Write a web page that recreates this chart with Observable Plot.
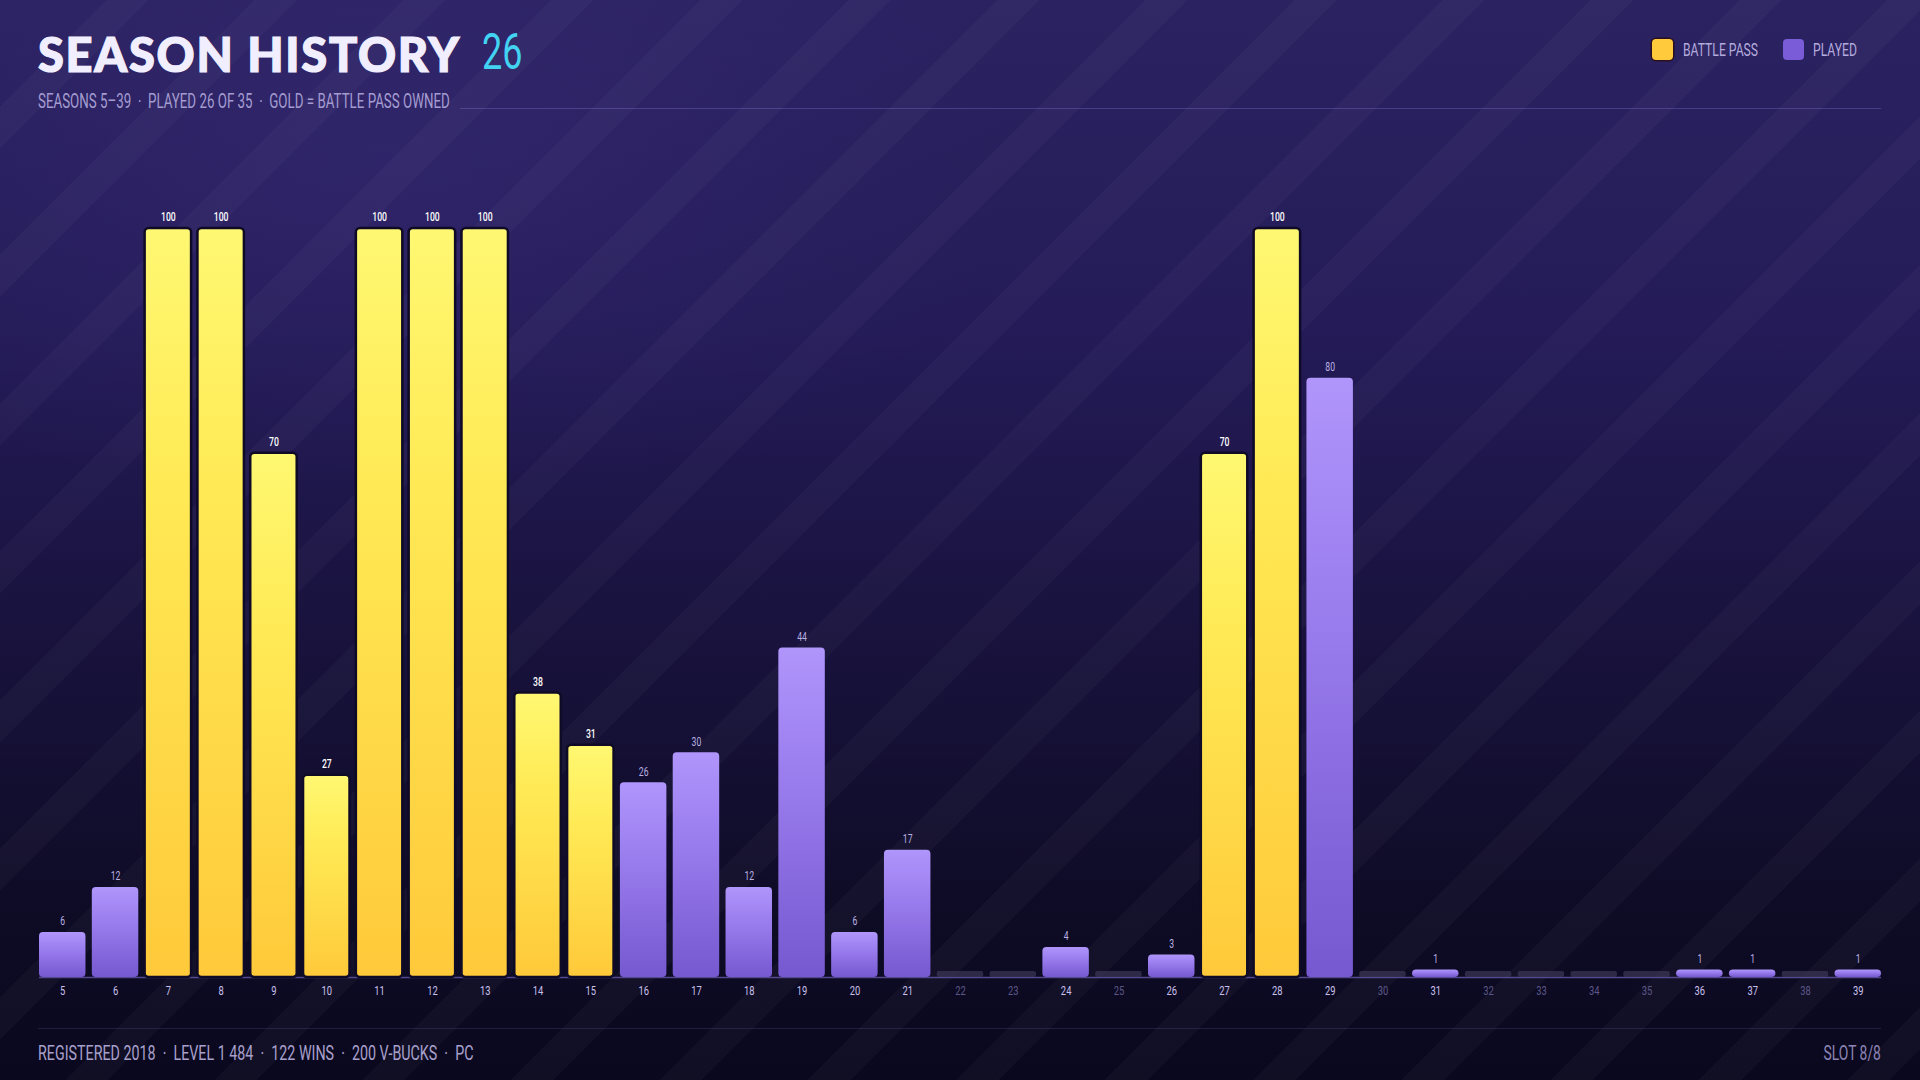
<!DOCTYPE html>
<html>
<head>
<meta charset="utf-8">
<script src="https://cdn.jsdelivr.net/npm/d3@7"></script>
<script src="https://cdn.jsdelivr.net/npm/@observablehq/plot@0.6"></script>
<style>
  html, body { margin: 0; padding: 0; }
  body {
    width: 1920px; height: 1080px; overflow: hidden; position: relative;
    background:
      repeating-linear-gradient(135deg, rgba(255,255,255,0) 0px, rgba(255,255,255,0) 75px, rgba(255,255,255,0.026) 75px, rgba(255,255,255,0.026) 105px),
      radial-gradient(ellipse 900px 500px at 20% 15%, rgba(70,55,140,0.25), rgba(70,55,140,0) 70%),
      linear-gradient(180deg, #2b2262 0%, #241b58 30%, #18123c 60%, #0e0b25 85%, #0a081e 100%);
    font-family: "Roboto", sans-serif;
  }
  .abs { position: absolute; white-space: nowrap; }
  .title-main { left: 38px; top: 26px; font-family: "Lato", "Roboto", sans-serif; font-weight: 900; font-size: 47px; line-height: 56px; color: #f1efff; letter-spacing: 1.7px; -webkit-text-stroke: 1.2px #f1efff; }
  .title-count { left: 482px; top: 22px; font-size: 50px; line-height: 60px; color: #43d3f2; font-weight: 400; transform: scaleX(0.72); transform-origin: left center; }
  .subtitle { left: 38px; top: 88px; font-size: 21px; line-height: 26px; color: #a49cd0; transform: scaleX(0.635); transform-origin: left center; }
  .subline { left: 460px; right: 39px; top: 108px; height: 1px; background: rgba(140,120,220,0.32); }
  .sw { width: 21px; height: 21px; border-radius: 4px; }
  .legtext { font-size: 19px; line-height: 24px; color: #b3abdc; top: 38px; transform: scaleX(0.64); transform-origin: left center; }
  #chart { position: absolute; left: 0; top: 200px; }
  .footer-line { left: 38px; right: 39px; top: 1028px; height: 1px; background: rgba(120,100,200,0.22); }
  .footer { left: 38px; top: 1040px; font-size: 21px; line-height: 26px; color: #a8a0cc; transform: scaleX(0.68); transform-origin: left center; }
  .slot { right: 39px; top: 1040px; font-size: 21px; line-height: 26px; color: #8d84b5; transform: scaleX(0.66); transform-origin: right center; }
</style>
</head>
<body>
<div class="abs title-main">SEASON HISTORY</div>
<div class="abs title-count">26</div>
<div class="abs subtitle">SEASONS 5–39 &nbsp;·&nbsp; PLAYED 26 OF 35 &nbsp;·&nbsp; GOLD = BATTLE PASS OWNED</div>
<div class="abs subline"></div>
<div class="abs sw" style="left:1652px; top:39px; background:#ffca3c; box-shadow: 0 0 0 1.5px #2a1020;"></div>
<div class="abs legtext" style="left:1683px;">BATTLE PASS</div>
<div class="abs sw" style="left:1783px; top:39px; background:#7a5cd8;"></div>
<div class="abs legtext" style="left:1813px;">PLAYED</div>
<div id="chart"></div>
<div class="abs footer-line"></div>
<div class="abs footer">REGISTERED 2018 &nbsp;·&nbsp; LEVEL 1 484 &nbsp;·&nbsp; 122 WINS &nbsp;·&nbsp; 200 V-BUCKS &nbsp;·&nbsp; PC</div>
<div class="abs slot">SLOT 8/8</div>
<script>
const seasons = [5,6,7,8,9,10,11,12,13,14,15,16,17,18,19,20,21,22,23,24,25,26,27,28,29,30,31,32,33,34,35,36,37,38,39];
const levels  = [6,12,100,100,70,27,100,100,100,38,31,26,30,12,44,6,17,0,0,4,0,3,70,100,80,0,1,0,0,0,0,1,1,0,1];
const battlePassSeasons = [7,8,9,10,11,12,13,14,15,27,28];
const unplayedSeasons = [22,23,25,30,32,33,34,35,38];

const rows = seasons.map((s, i) => ({
  season: s,
  level: levels[i],
  bp: battlePassSeasons.includes(s),
  played: !unplayedSeasons.includes(s)
}));
const bpRows = rows.filter(d => d.played && d.bp);
const plRows = rows.filter(d => d.played && !d.bp);
const offRows = rows.filter(d => !d.played);
const onRows = rows.filter(d => d.played);

const chart = Plot.plot({
  width: 1920,
  height: 807,
  marginLeft: 39,
  marginRight: 39,
  marginTop: 28,
  marginBottom: 30,
  style: { background: "transparent", fontFamily: "Roboto, sans-serif", overflow: "visible" },
  x: { type: "band", domain: seasons, paddingInner: 0.12, paddingOuter: 0, round: false, axis: null },
  y: { domain: [0, 100], axis: null },
  marks: [
    Plot.ruleY([0], { stroke: "#54498f", strokeWidth: 1.5 }),
    Plot.barY(offRows, { x: "season", y: "level", insetTop: -6, fill: "#3a3454", fillOpacity: 0.75, rx: 2 }),
    Plot.barY(bpRows, { x: "season", y: "level", fill: "url(#gold)", stroke: "#0f0a26", strokeWidth: 2.5, rx: 4 }),
    Plot.barY(plRows, { x: "season", y: "level", fill: "url(#violet)", rx: 4 }),
    Plot.text(bpRows, { x: "season", y: "level", text: "level", dy: -11, fill: "#ffffff", fontSize: 12, fontWeight: 500 }),
    Plot.text(plRows, { x: "season", y: "level", text: "level", dy: -11, fill: "#b9b0e3", fontSize: 12 }),
    Plot.text(onRows, { x: "season", frameAnchor: "bottom", text: d => String(d.season), dy: 17, fill: "#c9c1ec", fontSize: 13 }),
    Plot.text(offRows, { x: "season", frameAnchor: "bottom", text: d => String(d.season), dy: 17, fill: "#5d5788", fontSize: 13 })
  ]
});

d3.select(chart).insert("defs", ":first-child").html(`
  <linearGradient id="gold" x1="0" y1="0" x2="0" y2="1">
    <stop offset="0" stop-color="#fff872"/>
    <stop offset="0.34" stop-color="#ffea55"/>
    <stop offset="1" stop-color="#ffc93a"/>
  </linearGradient>
  <linearGradient id="violet" x1="0" y1="0" x2="0" y2="1">
    <stop offset="0" stop-color="#b095fb"/>
    <stop offset="0.34" stop-color="#9d80f0"/>
    <stop offset="1" stop-color="#7658d0"/>
  </linearGradient>
`);
document.getElementById("chart").appendChild(chart);

// condense the SVG labels to mimic a narrow typeface
d3.select(chart).selectAll("text").each(function () {
  const w = this.getComputedTextLength();
  if (w > 0) {
    this.setAttribute("textLength", w * 0.72);
    this.setAttribute("lengthAdjust", "spacingAndGlyphs");
  }
});
</script>
</body>
</html>
